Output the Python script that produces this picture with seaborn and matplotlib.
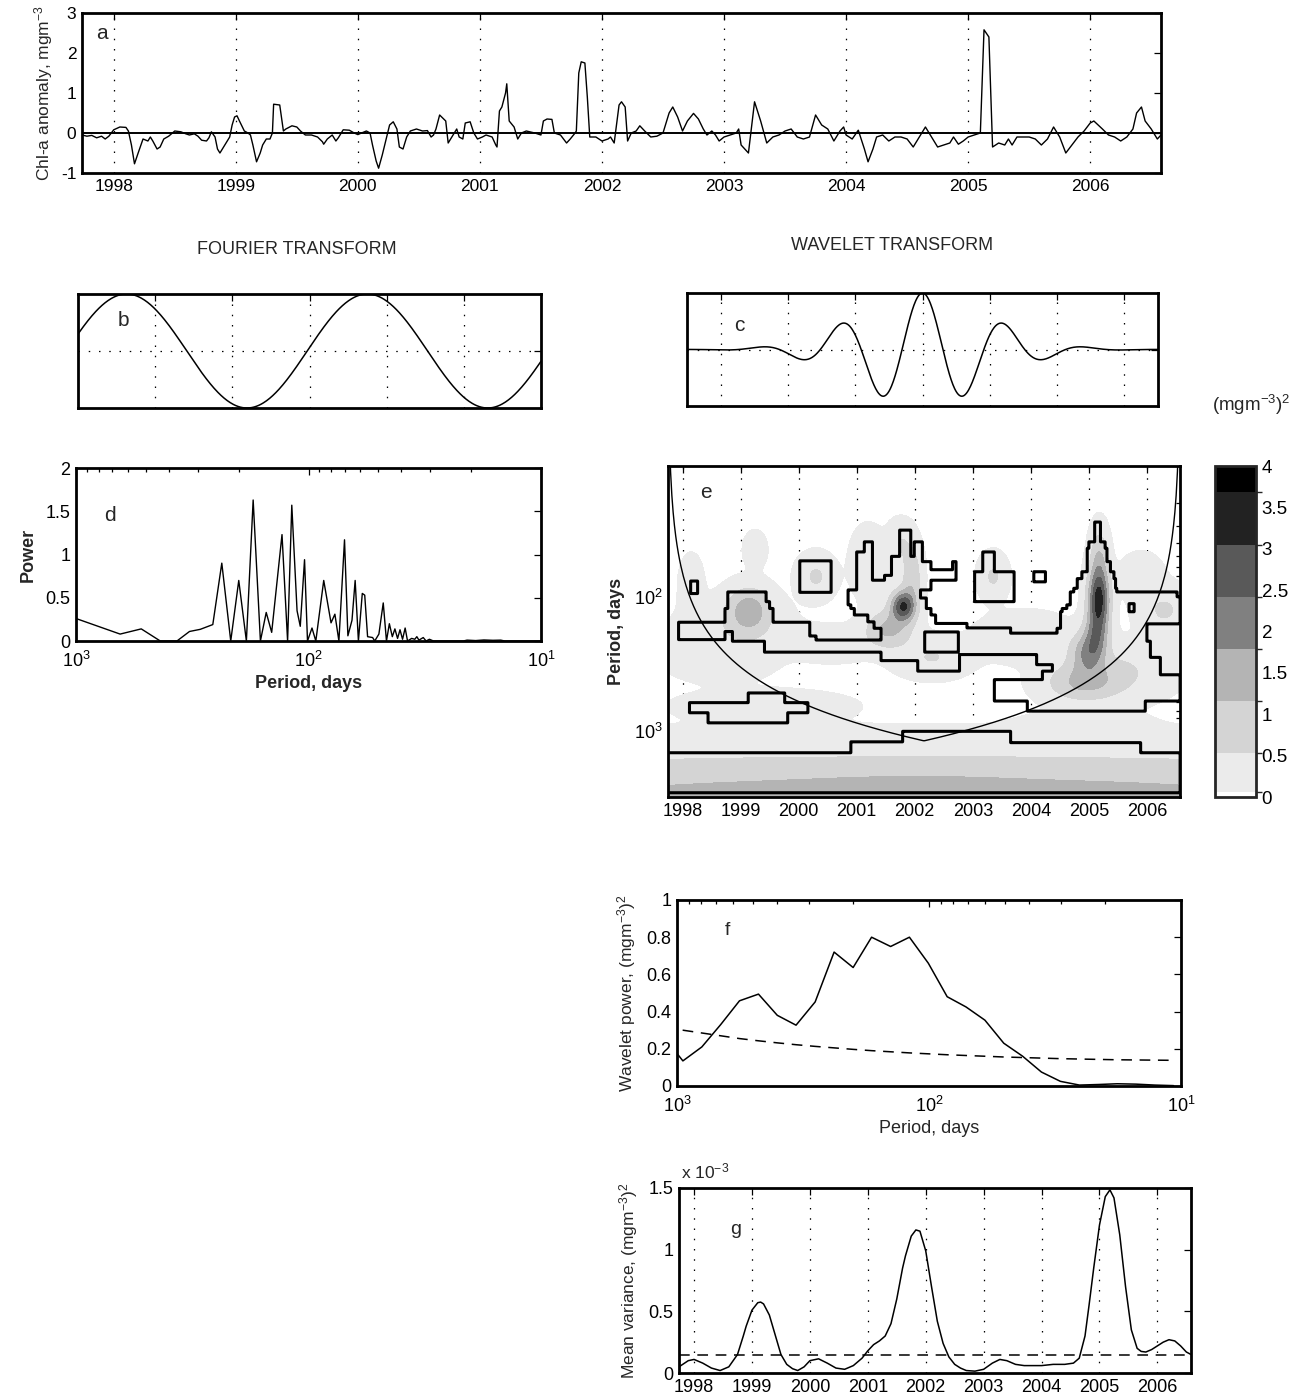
import numpy as np
import matplotlib
matplotlib.use("Agg")
import matplotlib.pyplot as plt
import seaborn as sns
from matplotlib.colors import ListedColormap, BoundaryNorm
from matplotlib.cm import ScalarMappable

# ---------------- data ----------------
# (a) Chl-a anomaly time series
chl_t = [1997.74, 1997.78, 1997.82, 1997.86, 1997.90, 1997.93, 1997.96, 1998.00, 1998.05, 1998.10,
         1998.12, 1998.145, 1998.17, 1998.20, 1998.24, 1998.28, 1998.30, 1998.32, 1998.355, 1998.38,
         1998.41, 1998.45, 1998.50, 1998.55, 1998.59, 1998.62, 1998.66, 1998.69, 1998.72, 1998.76,
         1998.78, 1998.80, 1998.83, 1998.85, 1998.87, 1998.91, 1998.95, 1998.97, 1998.99, 1999.01,
         1999.03, 1999.07, 1999.10, 1999.12, 1999.14, 1999.17, 1999.20, 1999.22, 1999.25, 1999.28,
         1999.30, 1999.31, 1999.36, 1999.39, 1999.41, 1999.46, 1999.50, 1999.53, 1999.57, 1999.62,
         1999.67, 1999.71, 1999.72, 1999.75, 1999.79, 1999.82, 1999.84, 1999.88, 1999.93, 1999.97,
         2000.00, 2000.03, 2000.07, 2000.10, 2000.12, 2000.15, 2000.17, 2000.20, 2000.22, 2000.26,
         2000.29, 2000.32, 2000.34, 2000.37, 2000.40, 2000.43, 2000.48, 2000.53, 2000.57, 2000.60,
         2000.62, 2000.64, 2000.67, 2000.70, 2000.72, 2000.74, 2000.78, 2000.81, 2000.83, 2000.86,
         2000.88, 2000.92, 2000.95, 2000.98, 2001.02, 2001.05, 2001.10, 2001.13, 2001.14, 2001.16,
         2001.18, 2001.21, 2001.22, 2001.24, 2001.28, 2001.31, 2001.34, 2001.38, 2001.45, 2001.50,
         2001.52, 2001.55, 2001.59, 2001.61, 2001.66, 2001.71, 2001.74, 2001.78, 2001.79, 2001.81,
         2001.83, 2001.86, 2001.88, 2001.90, 2001.95, 2002.00, 2002.05, 2002.07, 2002.10, 2002.14,
         2002.16, 2002.19, 2002.21, 2002.24, 2002.28, 2002.31, 2002.35, 2002.40, 2002.45, 2002.50,
         2002.55, 2002.58, 2002.62, 2002.66, 2002.70, 2002.75, 2002.79, 2002.83, 2002.86, 2002.90,
         2002.93, 2002.96, 2003.00, 2003.05, 2003.10, 2003.12, 2003.14, 2003.20, 2003.25, 2003.30,
         2003.35, 2003.40, 2003.45, 2003.50, 2003.55, 2003.60, 2003.65, 2003.70, 2003.75, 2003.80,
         2003.85, 2003.90, 2003.95, 2003.98, 2004.00, 2004.05, 2004.10, 2004.15, 2004.18, 2004.22,
         2004.25, 2004.30, 2004.35, 2004.40, 2004.45, 2004.50, 2004.55, 2004.60, 2004.65, 2004.70,
         2004.75, 2004.80, 2004.85, 2004.88, 2004.92, 2004.96, 2005.00, 2005.05, 2005.10, 2005.13,
         2005.17, 2005.20, 2005.25, 2005.30, 2005.33, 2005.36, 2005.40, 2005.50, 2005.55, 2005.60,
         2005.65, 2005.70, 2005.75, 2005.80, 2005.85, 2005.90, 2005.95, 2006.00, 2006.03, 2006.10,
         2006.15, 2006.20, 2006.25, 2006.30, 2006.35, 2006.38, 2006.42, 2006.45, 2006.50, 2006.55,
         2006.58]
chl_v = [-0.05, -0.08, -0.06, -0.12, -0.08, -0.15, -0.08, 0.08, 0.15, 0.14,
         0.05, -0.30, -0.77, -0.50, -0.15, -0.20, -0.10, -0.20, -0.40, -0.35,
         -0.15, -0.08, 0.05, 0.03, -0.02, -0.05, -0.02, -0.08, -0.18, -0.20,
         -0.12, 0.03, -0.10, -0.40, -0.50, -0.30, -0.10, 0.20, 0.40, 0.43,
         0.30, 0.05, 0.00, -0.05, -0.30, -0.72, -0.50, -0.30, -0.15, -0.15,
         0.00, 0.72, 0.70, 0.05, 0.10, 0.18, 0.15, 0.05, -0.05, -0.05,
         -0.10, -0.22, -0.28, -0.15, -0.05, -0.20, -0.12, 0.08, 0.07, 0.00,
         -0.04, 0.00, 0.05, 0.00, -0.30, -0.70, -0.88, -0.55, -0.30, 0.20,
         0.28, 0.10, -0.35, -0.40, -0.10, 0.05, 0.10, 0.05, 0.06, -0.10,
         -0.05, 0.10, 0.45, 0.36, 0.30, -0.25, -0.05, 0.10, -0.10, -0.15,
         0.25, 0.28, 0.00, -0.15, -0.10, -0.05, -0.10, -0.30, -0.35, 0.55,
         0.65, 1.00, 1.23, 0.30, 0.15, -0.15, 0.00, 0.05, 0.00, -0.05,
         0.30, 0.35, 0.34, 0.00, -0.05, -0.25, -0.15, 0.00, 0.05, 1.50,
         1.78, 1.75, 0.90, -0.10, -0.10, -0.20, -0.15, -0.10, -0.25, 0.70,
         0.78, 0.65, -0.20, 0.00, 0.05, 0.18, 0.05, -0.10, -0.08, 0.00,
         0.50, 0.65, 0.40, 0.05, 0.30, 0.49, 0.35, 0.10, -0.05, 0.05,
         -0.05, -0.20, -0.10, -0.05, 0.00, 0.10, -0.30, -0.50, 0.78, 0.30,
         -0.25, -0.10, -0.05, 0.05, 0.10, -0.10, -0.15, -0.10, 0.45, 0.20,
         0.10, -0.20, 0.05, 0.15, -0.05, -0.15, 0.07, -0.40, -0.72, -0.40,
         -0.10, -0.05, -0.20, -0.10, -0.10, -0.15, -0.35, -0.10, 0.15, -0.10,
         -0.35, -0.30, -0.25, -0.10, -0.28, -0.20, -0.10, -0.05, 0.00, 2.58,
         2.40, -0.35, -0.25, -0.30, -0.15, -0.30, -0.10, -0.10, -0.15, -0.30,
         -0.15, 0.15, -0.10, -0.50, -0.30, -0.10, 0.05, 0.25, 0.30, 0.10,
         -0.05, -0.10, -0.20, -0.10, 0.10, 0.50, 0.65, 0.30, 0.10, -0.15,
         -0.05]

# (b) Fourier basis function: period and phase as fractions of the axis width
b_period = 0.52
b_peak = 0.105
# (c) Morlet wavelet: angular frequency and half-width of the plotted window
c_omega = 5.0
c_halfwidth = 3.62

# (d) Fourier power spectrum
d_period = [1000, 646, 524, 434, 368, 325, 292, 258, 236, 216, 199.5, 185, 173, 161, 152, 144,
            130, 123, 118, 112, 108.5, 104, 101, 96.6, 93, 86, 80, 77, 74, 70, 67.7, 65, 63, 61,
            58.7, 57.3, 55.7, 53, 51.9, 49.8, 47.7, 46.2, 44.9, 43.6, 42.5, 41.4, 40.4, 39.4, 38.4,
            37.5, 36, 34.9, 34.2, 33.5, 32.1, 31.2, 30.2, 29, 21.6, 20.8, 19.1, 17.6, 16.1, 14.9,
            14.3, 10]
d_power = [0.26, 0.08, 0.14, 0.0, 0.0, 0.11, 0.135, 0.19, 0.90, 0.0, 0.70, 0.0, 1.63, 0.0, 0.33, 0.10,
           1.23, 0.0, 1.57, 0.35, 0.17, 0.94, 0.0, 0.15, 0.0, 0.70, 0.21, 0.31, 0.0, 1.17, 0.06, 0.24,
           0.70, 0.0, 0.55, 0.53, 0.05, 0.04, 0.0, 0.08, 0.44, 0.0, 0.20, 0.05, 0.14, 0.03, 0.13,
           0.02, 0.15, 0.0, 0.03, 0.02, 0.05, 0.01, 0.04, 0.0, 0.02, 0.0, 0.0, 0.01, 0.005, 0.012,
           0.008, 0.01, 0.0, 0.0]

# (e) wavelet power: Gaussian patches (year, log10 period, amplitude, width in years, width in log10 period)
e_blobs = [
    (2002.2, 3.50, 1.45, 9.0, 0.22),
    (2002.0, 3.42, 0.30, 1.0, 0.05),
    (1999.4, 2.80, 0.30, 0.9, 0.07),
    (1998.6, 2.50, 0.30, 0.5, 0.08),
    (2004.9, 2.95, 0.25, 0.6, 0.06),
    (1999.15, 2.10, 1.45, 0.24, 0.11),
    (1998.9, 2.25, 0.40, 0.6, 0.15),
    (1998.15, 1.90, 0.40, 0.12, 0.12),
    (1999.25, 1.65, 0.35, 0.12, 0.08),
    (2000.30, 1.85, 0.60, 0.20, 0.10),
    (2000.6, 2.35, 0.35, 0.45, 0.08),
    (2001.80, 2.07, 2.95, 0.14, 0.075),
    (2001.55, 2.24, 1.30, 0.26, 0.09),
    (2001.95, 1.85, 1.00, 0.11, 0.15),
    (2001.20, 1.75, 0.50, 0.18, 0.15),
    (2001.75, 1.60, 0.50, 0.14, 0.10),
    (2002.3, 2.45, 0.55, 0.40, 0.09),
    (2003.35, 1.85, 0.60, 0.15, 0.10),
    (2003.9, 2.30, 0.40, 0.50, 0.11),
    (2005.17, 2.02, 3.30, 0.12, 0.16),
    (2005.12, 2.30, 1.50, 0.14, 0.12),
    (2005.18, 1.70, 0.90, 0.10, 0.14),
    (2004.95, 2.42, 1.40, 0.18, 0.10),
    (2004.90, 2.64, 1.10, 0.42, 0.09),
    (2005.5, 2.55, 0.55, 0.60, 0.13),
    (2006.3, 2.10, 0.60, 0.28, 0.11),
    (2005.9, 1.85, 0.40, 0.22, 0.10),
]
# 5% significance regions (year0, year1, log10 period0, log10 period1)
sig_boxes = [
    # isolated patches
    (1998.14, 1998.26, 1.884, 1.975),
    (2000.02, 2000.56, 1.733, 1.968),
    (2003.03, 2003.71, 1.815, 2.037),
    (2003.17, 2003.37, 1.667, 1.815),
    (2004.05, 2004.25, 1.815, 1.890),
    (1998.12, 2000.16, 2.787, 2.862),
    (1999.13, 1999.76, 2.713, 2.787),
    (1998.44, 1999.81, 2.862, 2.936),
    # 1999 event and the band below it
    (1997.93, 1998.73, 2.19, 2.319),
    (1998.73, 1998.78, 2.086, 2.257),
    (1998.78, 1998.86, 1.963, 2.257),
    (1998.86, 1999.44, 1.963, 2.33),
    (1999.41, 1999.44, 2.33, 2.41),
    (1999.44, 1999.50, 2.037, 2.41),
    (1999.50, 1999.56, 2.086, 2.41),
    (1999.56, 2000.19, 2.19, 2.41),
    (2000.19, 2000.30, 2.29, 2.41),
    (2000.30, 2001.48, 2.32, 2.41),
    # 2001-2002 event
    (2000.85, 2000.90, 1.95, 2.06),
    (2000.90, 2000.96, 1.95, 2.087),
    (2000.96, 2001.19, 1.95, 2.136),
    (2001.19, 2001.30, 1.95, 2.185),
    (2001.30, 2001.48, 1.95, 2.235),
    (2001.00, 2001.13, 1.667, 1.95),
    (2001.13, 2001.27, 1.593, 1.95),
    (2001.27, 2001.48, 1.877, 1.95),
    (2001.48, 2001.60, 1.84, 2.474),
    (2001.60, 2001.74, 1.70, 2.474),
    (2001.74, 2001.93, 1.506, 2.474),
    (2001.42, 2001.48, 2.235, 2.474),
    (2001.93, 2001.99, 1.70, 2.474),
    (2001.99, 2002.05, 1.593, 2.474),
    (2002.05, 2002.13, 1.593, 1.95),
    (2002.13, 2002.28, 1.74, 1.95),
    (2002.28, 2002.71, 1.80, 1.876),
    (2002.65, 2002.71, 1.74, 1.80),
    (2002.05, 2002.10, 1.95, 2.553),
    (2002.10, 2002.20, 2.01, 2.553),
    (2002.20, 2002.28, 2.087, 2.553),
    (2002.28, 2002.36, 2.136, 2.553),
    (2002.36, 2002.77, 2.197, 2.553),
    (2002.77, 2002.90, 2.197, 2.43),
    (2002.90, 2003.65, 2.23, 2.43),
    (2003.65, 2004.10, 2.27, 2.43),
    (2004.10, 2004.45, 2.27, 2.504),
    # 2005 event and the right-hand side
    (2005.10, 2005.20, 1.444, 1.963),
    (2005.00, 2005.28, 1.593, 1.963),
    (2004.97, 2005.31, 1.64, 1.963),
    (2004.97, 2005.37, 1.74, 1.963),
    (2004.88, 2005.43, 1.815, 1.963),
    (2004.80, 2005.46, 1.864, 1.963),
    (2004.74, 2005.48, 1.938, 1.963),
    (2004.68, 2006.52, 1.963, 2.27),
    (2006.52, 2006.57, 2.00, 2.27),
    (2004.62, 2004.68, 2.06, 2.27),
    (2004.54, 2004.62, 2.087, 2.27),
    (2004.51, 2004.54, 2.11, 2.27),
    (2004.45, 2004.51, 2.235, 2.27),
    (2004.37, 2005.97, 2.27, 2.85),
    (2005.97, 2006.57, 2.27, 2.775),
    (2003.94, 2004.37, 2.615, 2.85),
    (2003.37, 2003.94, 2.615, 2.775),
    (2004.20, 2004.37, 2.553, 2.615),
    # long periods
    (1997.75, 2000.90, 3.158, 3.455),
    (2000.90, 2001.79, 3.076, 3.455),
    (2001.79, 2003.65, 3.00, 3.455),
    (2003.65, 2005.89, 3.084, 3.455),
    (2005.89, 2006.57, 3.158, 3.455),
]
sig_holes = [
    (2002.17, 2002.75, 2.26, 2.41),
    (2005.69, 2005.78, 2.05, 2.11),
    (2006.00, 2006.57, 2.20, 2.33),
    (2006.06, 2006.57, 2.33, 2.45),
    (2006.23, 2006.57, 2.45, 2.58),
]
coi_factor = 0.73  # cone of influence: period (days) per day from the record edge

cb_bounds = [0, 0.06, 0.53, 1.16, 1.79, 2.42, 3.05, 3.68, 4.0]
cb_colors = ['white', '#ebebeb', '#d4d4d4', '#b4b4b4', '#808080', '#595959', '#222222', '#000000']

# (f) global wavelet spectrum and its significance level
f_period = [1122, 947.6, 797, 671, 565, 475, 400, 337, 283, 238, 200, 169, 142, 119.6, 100.6,
            84.7, 71.3, 60, 50.5, 42.5, 35.8, 30.1, 25.3, 21.3, 17.9, 15.1, 12.7, 10.7]
f_power = [0.26, 0.135, 0.21, 0.33, 0.458, 0.494, 0.38, 0.327, 0.452, 0.72, 0.637, 0.80, 0.75, 0.80,
           0.66, 0.48, 0.425, 0.354, 0.23, 0.16, 0.075, 0.025, 0.005, 0.008, 0.012, 0.01, 0.005, 0.002]
f_signif = [0.31, 0.30, 0.285, 0.27, 0.255, 0.243, 0.232, 0.222, 0.213, 0.205, 0.197, 0.19, 0.184,
            0.178, 0.173, 0.168, 0.164, 0.16, 0.156, 0.153, 0.15, 0.147, 0.145, 0.143, 0.141, 0.14,
            0.139, 0.138]

# (g) scale-averaged variance (units of 1e-3) and its significance level
g_t = [1997.74, 1997.90, 1998.00, 1998.15, 1998.30, 1998.45, 1998.60, 1998.75, 1998.85, 1998.90,
       1999.00, 1999.10, 1999.15, 1999.20, 1999.30, 1999.40, 1999.50, 1999.60, 1999.70, 1999.79,
       1999.90, 2000.00, 2000.15, 2000.30, 2000.45, 2000.60, 2000.75, 2000.90, 2001.00, 2001.10,
       2001.20, 2001.30, 2001.40, 2001.50, 2001.60, 2001.65, 2001.75, 2001.83, 2001.90, 2002.00,
       2002.10, 2002.20, 2002.30, 2002.40, 2002.50, 2002.60, 2002.70, 2002.85, 2003.00, 2003.15,
       2003.28, 2003.40, 2003.55, 2003.70, 2003.85, 2004.00, 2004.20, 2004.40, 2004.55, 2004.65,
       2004.75, 2004.82, 2004.90, 2005.00, 2005.10, 2005.18, 2005.25, 2005.35, 2005.45, 2005.55,
       2005.65, 2005.72, 2005.80, 2005.90, 2006.00, 2006.10, 2006.20, 2006.30, 2006.40, 2006.50,
       2006.58]
g_var = [0.05, 0.10, 0.11, 0.08, 0.04, 0.02, 0.05, 0.15, 0.30, 0.38,
         0.51, 0.57, 0.575, 0.56, 0.47, 0.31, 0.15, 0.07, 0.035, 0.02,
         0.05, 0.10, 0.115, 0.08, 0.04, 0.03, 0.06, 0.12, 0.18, 0.23,
         0.26, 0.30, 0.40, 0.60, 0.85, 0.95, 1.11, 1.16, 1.15, 0.99,
         0.70, 0.42, 0.24, 0.13, 0.07, 0.04, 0.02, 0.015, 0.03, 0.08,
         0.11, 0.10, 0.07, 0.06, 0.06, 0.06, 0.07, 0.07, 0.08, 0.12,
         0.30, 0.55, 0.85, 1.20, 1.43, 1.485, 1.42, 1.12, 0.70, 0.35,
         0.20, 0.175, 0.17, 0.19, 0.22, 0.25, 0.27, 0.26, 0.22, 0.17,
         0.15]
g_signif = 0.143

years = list(range(1998, 2007))
t_start, t_end = 1997.74, 2006.58

# ---------------- style ----------------
sns.set_theme(style="white")
plt.rcParams['font.family'] = ['Liberation Sans', 'DejaVu Sans']
plt.rcParams['mathtext.fontset'] = 'custom'
plt.rcParams['mathtext.rm'] = 'Liberation Sans'
plt.rcParams['mathtext.it'] = 'Liberation Sans:italic'
plt.rcParams['mathtext.bf'] = 'Liberation Sans:bold'
plt.rcParams['axes.unicode_minus'] = False

W, H = 1302, 1397
fig = plt.figure(figsize=(W / 100, H / 100), dpi=100)
DOT = (0, (1.2, 7))


def box(l, t, r, b):
    return [l / W, 1 - b / H, (r - l) / W, (b - t) / H]


def matlab_axes(ax, lw=1.5, labelsize=12.5):
    for s in ax.spines.values():
        s.set_visible(True)
        s.set_color('black')
        s.set_linewidth(lw)
    ax.tick_params(which='both', direction='in', top=True, right=True,
                   colors='black', labelsize=labelsize, width=0.9, pad=4)
    ax.tick_params(which='major', length=5)
    ax.tick_params(which='minor', length=3)
    ax.set_facecolor('white')


# ---------------- (a) ----------------
ax = fig.add_axes(box(82, 13, 1161, 173))
sns.lineplot(x=chl_t, y=chl_v, ax=ax, color='black', lw=1.0, sort=False)
ax.axhline(0, color='black', lw=1.4)
ax.set_xlim(t_start, t_end)
ax.set_ylim(-1, 3)
ax.set_xticks(years)
ax.set_yticks([-1, 0, 1, 2, 3])
ax.grid(axis='x', linestyle=DOT, color='black', lw=0.9)
ax.set_ylabel('Chl-a anomaly, mgm$^{-3}$', fontsize=12.5, labelpad=4)
ax.text(0.013, 0.93, 'a', transform=ax.transAxes, fontsize=15, va='top')
matlab_axes(ax, 2.0)

fig.text(297 / W, 1 - 250 / H, 'FOURIER TRANSFORM', ha='center', va='center', fontsize=13)
fig.text(892 / W, 1 - 246 / H, 'WAVELET TRANSFORM', ha='center', va='center', fontsize=13)

# ---------------- (b) ----------------
ax = fig.add_axes(box(78, 294, 541, 408))
xb = np.linspace(0, 1, 600)
sns.lineplot(x=xb, y=np.cos(2 * np.pi * (xb - b_peak) / b_period), ax=ax, color='black', lw=1.1, sort=False)
ax.set_xlim(0, 1)
ax.set_ylim(-1, 1)
ax.set_xticks(np.arange(1, 6) / 6)
ax.set_yticks([0])
ax.set_xticklabels([])
ax.set_yticklabels([])
ax.grid(True, linestyle=DOT, color='black', lw=0.9)
ax.text(0.085, 0.85, 'b', transform=ax.transAxes, fontsize=15, va='top')
matlab_axes(ax, 2.0)

# ---------------- (c) ----------------
ax = fig.add_axes(box(687, 293, 1158, 406))
xc = np.linspace(-c_halfwidth, c_halfwidth, 800)
sns.lineplot(x=xc, y=np.cos(c_omega * xc) * np.exp(-xc ** 2 / 2), ax=ax, color='black', lw=1.1, sort=False)
ax.set_xlim(-c_halfwidth, c_halfwidth)
ax.set_ylim(-1, 1)
ax.set_xticks(-c_halfwidth + (np.arange(7) + 0.5) * 2 * c_halfwidth / 7)
ax.set_yticks([0])
ax.set_xticklabels([])
ax.set_yticklabels([])
ax.grid(True, linestyle=DOT, color='black', lw=0.9)
ax.text(0.10, 0.80, 'c', transform=ax.transAxes, fontsize=15, va='top')
matlab_axes(ax, 2.0)

# ---------------- (d) ----------------
ax = fig.add_axes(box(76, 468, 541, 641))
sns.lineplot(x=d_period, y=d_power, ax=ax, color='black', lw=1.0, sort=False)
ax.set_xscale('log')
ax.set_xlim(1000, 10)
ax.set_ylim(0, 2)
ax.set_yticks([0, 0.5, 1, 1.5, 2])
ax.set_yticklabels(['0', '0.5', '1', '1.5', '2'])
ax.set_xlabel('Period, days', fontsize=13, fontweight='bold', labelpad=3)
ax.set_ylabel('Power', fontsize=13, fontweight='bold', labelpad=6)
ax.text(0.06, 0.78, 'd', transform=ax.transAxes, fontsize=15, va='top')
matlab_axes(ax, 2.0, 13)
ax.tick_params(axis='x', pad=7)

# ---------------- (e) ----------------
ax = fig.add_axes(box(668, 466, 1180, 797))
tg = np.linspace(1997.75, 2006.57, 500)
lg = np.linspace(1.03, 3.487, 400)
TT, LL = np.meshgrid(tg, lg)
power = np.zeros_like(TT)
for tc, lc, amp, st, sl in e_blobs:
    power += amp * np.exp(-0.5 * ((TT - tc) / st) ** 2 - 0.5 * ((LL - lc) / sl) ** 2)
ax.contourf(TT, 10 ** LL, power, levels=cb_bounds[1:-1] + [100], colors=cb_colors[1:])

tm = np.arange(1997.75, 2006.575, 0.004)
lm = np.arange(1.03, 3.49, 0.003)
TM, LM = np.meshgrid(tm, lm)
mask = np.zeros_like(TM)
for t0, t1, l0, l1 in sig_boxes:
    mask[(TM >= t0) & (TM <= t1) & (LM >= l0) & (LM <= l1)] = 1
for t0, t1, l0, l1 in sig_holes:
    mask[(TM >= t0) & (TM <= t1) & (LM >= l0) & (LM <= l1)] = 0
ax.contour(TM, 10 ** LM, mask, levels=[0.5], colors='black', linewidths=2.2)

tcoi = np.linspace(1997.75, 2006.57, 400)
coi = coi_factor * 365.25 * np.maximum(np.minimum(tcoi - 1997.75, 2006.57 - tcoi), 1e-3)
ax.plot(tcoi, coi, color='black', lw=1.0)

ax.set_yscale('log')
ax.set_xlim(1997.75, 2006.57)
ax.set_ylim(3070, 10.7)
ax.set_xticks(years)
ax.set_xticklabels([str(y) for y in years])
ax.grid(axis='x', linestyle=DOT, color='black', lw=0.9)
ax.set_ylabel('Period, days', fontsize=13, fontweight='bold', labelpad=6)
ax.text(0.063, 0.95, 'e', transform=ax.transAxes, fontsize=15, va='top')
matlab_axes(ax, 2.0, 13)

# colour bar
cax = fig.add_axes(box(1215, 466, 1256, 797))
cmap = ListedColormap(cb_colors)
norm = BoundaryNorm(cb_bounds, cmap.N)
cb = fig.colorbar(ScalarMappable(norm=norm, cmap=cmap), cax=cax,
                  ticks=np.arange(0, 4.01, 0.5), spacing='proportional')
cb.ax.set_yticklabels(['0', '0.5', '1', '1.5', '2', '2.5', '3', '3.5', '4'])
cb.outline.set_linewidth(2.0)
cb.ax.tick_params(direction='in', left=True, right=True, length=5, width=0.9,
                  labelsize=13.5, colors='black', pad=4)
fig.text(1251 / W, 1 - 405 / H, '(mgm$^{-3}$)$^2$', ha='center', va='center', fontsize=13.5)

# ---------------- (f) ----------------
ax = fig.add_axes(box(677, 900, 1181, 1086))
sns.lineplot(x=f_period, y=f_power, ax=ax, color='black', lw=1.1, sort=False)
sns.lineplot(x=f_period, y=f_signif, ax=ax, color='black', lw=1.1, sort=False, linestyle=(0, (7, 5)))
ax.set_xscale('log')
ax.set_xlim(1000, 10)
ax.set_ylim(0, 1)
ax.set_yticks([0, 0.2, 0.4, 0.6, 0.8, 1])
ax.set_yticklabels(['0', '0.2', '0.4', '0.6', '0.8', '1'])
ax.set_xlabel('Period, days', fontsize=13, labelpad=3)
ax.set_ylabel('Wavelet power, (mgm$^{-3}$)$^2$', fontsize=12.5, labelpad=6)
ax.text(0.095, 0.88, 'f', transform=ax.transAxes, fontsize=14, va='top')
matlab_axes(ax, 2.0, 13)
ax.tick_params(axis='x', pad=7)

# ---------------- (g) ----------------
ax = fig.add_axes(box(679, 1188, 1191, 1373))
sns.lineplot(x=g_t, y=g_var, ax=ax, color='black', lw=1.1, sort=False)
ax.axhline(g_signif, color='black', lw=1.1, linestyle=(0, (7, 5)))
ax.set_xlim(t_start, t_end)
ax.set_ylim(0, 1.5)
ax.set_xticks(years)
ax.set_yticks([0, 0.5, 1, 1.5])
ax.set_yticklabels(['0', '0.5', '1', '1.5'])
ax.grid(axis='x', linestyle=DOT, color='black', lw=0.9)
ax.set_ylabel('Mean variance, (mgm$^{-3}$)$^2$', fontsize=12.5, labelpad=6)
ax.text(0.10, 0.82, 'g', transform=ax.transAxes, fontsize=14, va='top')
matlab_axes(ax, 2.0, 13)
fig.text(681 / W, 1 - 1171 / H, 'x 10$^{-3}$', ha='left', va='center', fontsize=12.5)

fig.savefig('out.png', dpi=100, facecolor='white')
